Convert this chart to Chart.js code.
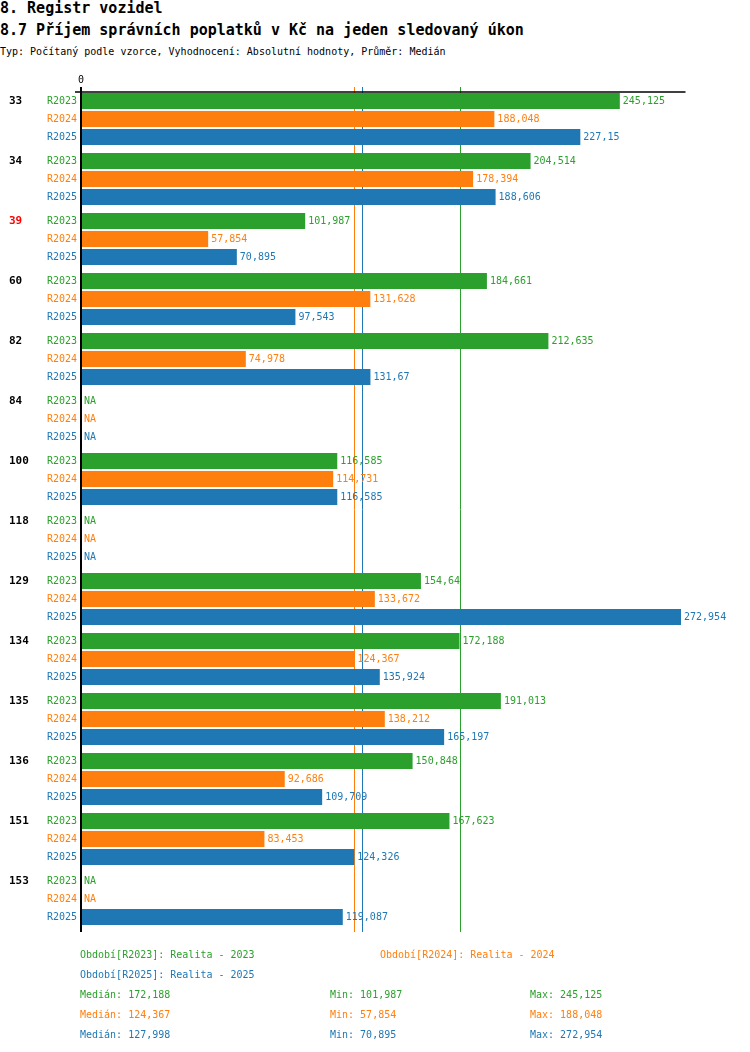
<!DOCTYPE html>
<html lang="cs">
<head>
<meta charset="utf-8">
<title>8.7 Příjem správních poplatků v Kč na jeden sledovaný úkon</title>
<script src="https://cdn.jsdelivr.net/npm/chart.js@4.4.1/dist/chart.umd.min.js"></script>
<style>
    html, body { margin: 0; padding: 0; background: #fff; }
    body { position: relative; width: 750px; height: 1052px; overflow: hidden; font-family: "DejaVu Sans Mono", monospace; }
    #chart { position: absolute; left: 0; top: 0; }
    .title { position: absolute; left: 0; font-size: 15px; font-weight: bold; line-height: 22px; white-space: pre; color: #000; }
    .sub { position: absolute; left: 0; font-size: 10px; line-height: 20px; white-space: pre; color: #000; }
    .leg { position: absolute; font-size: 10px; line-height: 20px; white-space: pre; }
</style>
</head>
<body>
<div class="title" style="top:-3px">8. Registr vozidel</div>
<div class="title" style="top:19px">8.7 Příjem správních poplatků v Kč na jeden sledovaný úkon</div>
<div class="sub" style="top:41.5px">Typ: Počítaný podle vzorce, Vyhodnocení: Absolutní hodnoty, Průměr: Medián</div>
<canvas id="chart" width="750" height="1052"></canvas>
<div id="legend"></div>
<script>
// data
const groups = ['33', '34', '39', '60', '82', '84', '100', '118', '129', '134', '135', '136', '151', '153'];
const highlighted = ['39'];
const seriesNames = ['R2023', 'R2024', 'R2025'];
const periodNames = ['Realita - 2023', 'Realita - 2024', 'Realita - 2025'];
const seriesColors = ['#2ca02c', '#ff7f0e', '#1f77b4'];
const r2023 = [245.125, 204.514, 101.987, 184.661, 212.635, null, 116.585, null, 154.64, 172.188, 191.013, 150.848, 167.623, null];
const r2024 = [188.048, 178.394, 57.854, 131.628, 74.978, null, 114.731, null, 133.672, 124.367, 138.212, 92.686, 83.453, null];
const r2025 = [227.15, 188.606, 70.895, 97.543, 131.67, null, 116.585, null, 272.954, 135.924, 165.197, 109.709, 124.326, 119.087];
const axisMax = 275;

const series = [r2023, r2024, r2025];
const fmt = v => String(v).replace('.', ',');

function median(arr) {
    const s = arr.filter(v => v !== null).sort((a, b) => a - b);
    const m = Math.floor(s.length / 2);
    return s.length % 2 ? s[m] : Math.round((s[m - 1] + s[m]) / 2 * 1000) / 1000;
}
const stats = series.map(arr => {
    const vals = arr.filter(v => v !== null);
    return { med: median(arr), min: Math.min(...vals), max: Math.max(...vals) };
});

// legend below the chart
const legend = document.getElementById('legend');
function addLeg(text, x, top, color) {
    const d = document.createElement('div');
    d.className = 'leg';
    d.style.left = x + 'px';
    d.style.top = top + 'px';
    d.style.color = color;
    d.textContent = text;
    legend.appendChild(d);
}
addLeg('Období[' + seriesNames[0] + ']: ' + periodNames[0], 80, 944.5, seriesColors[0]);
addLeg('Období[' + seriesNames[1] + ']: ' + periodNames[1], 380, 944.5, seriesColors[1]);
addLeg('Období[' + seriesNames[2] + ']: ' + periodNames[2], 80, 964.5, seriesColors[2]);
stats.forEach((s, i) => {
    const top = 984.5 + i * 20;
    addLeg('Medián: ' + fmt(s.med), 80, top, seriesColors[i]);
    addLeg('Min: ' + fmt(s.min), 330, top, seriesColors[i]);
    addLeg('Max: ' + fmt(s.max), 530, top, seriesColors[i]);
});

const FONT = '"DejaVu Sans Mono", monospace';

const decorations = {
    id: 'decorations',
    beforeDatasetsDraw(chart) {
        const { ctx, chartArea, scales } = chart;
        ctx.save();
        ctx.lineWidth = 1;
        stats.forEach((s, i) => {
            const x = Math.round(scales.x.getPixelForValue(s.med)) + 0.5;
            ctx.strokeStyle = seriesColors[i];
            ctx.beginPath();
            ctx.moveTo(x, chartArea.top - 2);
            ctx.lineTo(x, chartArea.bottom + 3);
            ctx.stroke();
        });
        ctx.restore();
    },
    afterDatasetsDraw(chart) {
        const { ctx, chartArea, scales } = chart;
        const x0 = scales.x.getPixelForValue(0);
        ctx.save();
        // axes
        ctx.strokeStyle = '#000';
        ctx.lineWidth = 1.5;
        ctx.beginPath();
        ctx.moveTo(x0 - 6, chartArea.top + 3);
        ctx.lineTo(chartArea.right, chartArea.top + 3);
        ctx.stroke();
        ctx.lineWidth = 2;
        ctx.beginPath();
        ctx.moveTo(x0, chartArea.top - 2);
        ctx.lineTo(x0, chartArea.bottom + 3);
        ctx.stroke();

        ctx.font = '10px ' + FONT;
        ctx.fillStyle = '#000';
        ctx.textAlign = 'center';
        ctx.textBaseline = 'middle';
        ctx.fillText('0', x0, chartArea.top - 9);

        chart.data.datasets.forEach((ds, d) => {
            const meta = chart.getDatasetMeta(d);
            meta.data.forEach((el, i) => {
                const y = el.y;
                const v = ds.data[i];
                ctx.font = '10px ' + FONT;
                ctx.fillStyle = seriesColors[d];
                ctx.textAlign = 'right';
                ctx.fillText(seriesNames[d], x0 - 4, y);
                ctx.textAlign = 'left';
                if (v === null) {
                    ctx.fillText('NA', x0 + 3, y);
                } else {
                    ctx.fillText(fmt(v), el.x + 3, y);
                }
                if (d === 0) {
                    ctx.font = 'bold 11px ' + FONT;
                    ctx.fillStyle = highlighted.includes(groups[i]) ? '#ff0000' : '#000';
                    ctx.fillText(groups[i], 9, y);
                }
            });
        });
        ctx.restore();
    }
};

new Chart(document.getElementById('chart').getContext('2d'), {
    type: 'bar',
    data: {
        labels: groups,
        datasets: series.map((arr, i) => ({
            label: seriesNames[i],
            data: arr,
            backgroundColor: seriesColors[i],
            borderWidth: 0,
            barPercentage: 16 / 18,
            categoryPercentage: 0.9
        }))
    },
    options: {
        indexAxis: 'y',
        responsive: false,
        animation: false,
        devicePixelRatio: 1,
        layout: { padding: { left: 81, right: 64.5, top: 89, bottom: 123 } },
        scales: {
            x: { display: false, min: 0, max: axisMax },
            y: { display: false }
        },
        plugins: {
            legend: { display: false },
            tooltip: { enabled: false }
        }
    },
    plugins: [decorations]
});
</script>
</body>
</html>
